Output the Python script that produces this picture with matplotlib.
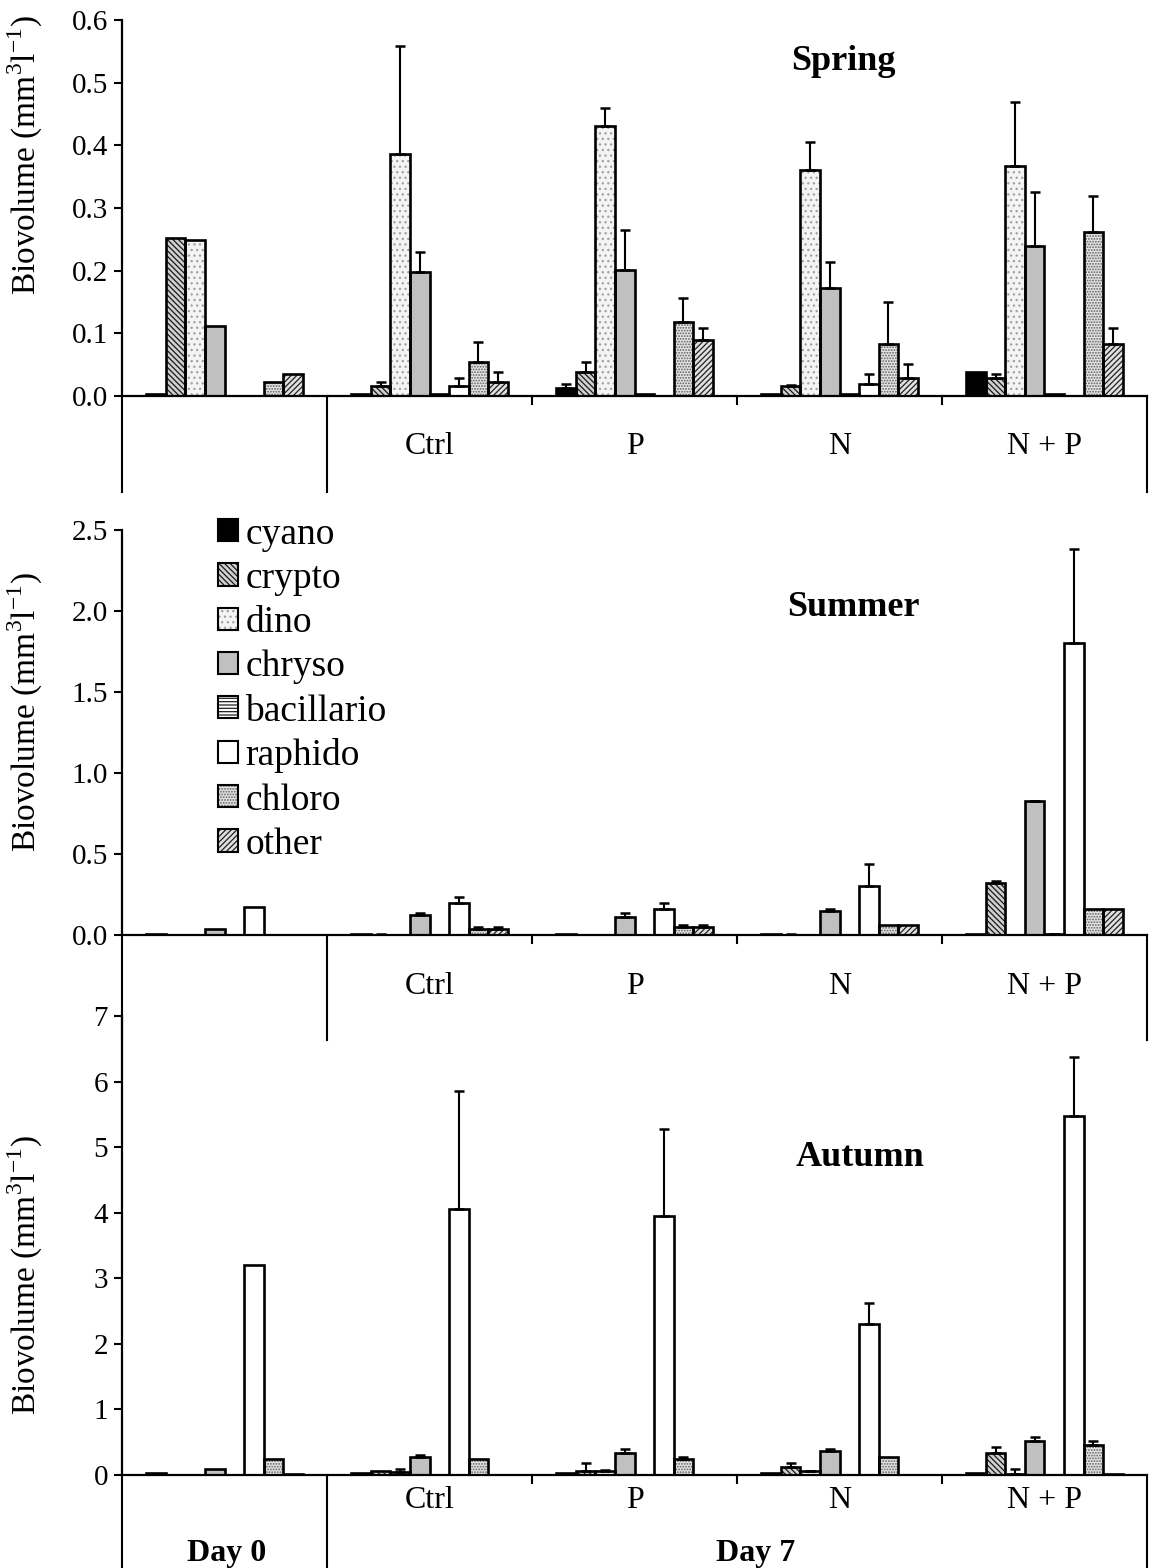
import numpy as np
import matplotlib
matplotlib.use("Agg")
import matplotlib.pyplot as plt
from matplotlib.patches import Patch

plt.rcParams['font.family'] = ['Liberation Serif', 'DejaVu Serif']
plt.rcParams['mathtext.fontset'] = 'custom'
plt.rcParams['mathtext.rm'] = 'Liberation Serif'
plt.rcParams['hatch.linewidth'] = 0.9

W, H = 1153, 1568

groups = ['Day 0', 'Ctrl', 'P', 'N', 'N + P']
taxa = ['cyano', 'crypto', 'dino', 'chryso', 'bacillario', 'raphido', 'chloro', 'other']

# rows follow taxa, columns follow groups
spring_mean = [
    [0.003, 0.003, 0.013, 0.003, 0.038],
    [0.252, 0.016, 0.038, 0.016, 0.028],
    [0.249, 0.386, 0.431, 0.361, 0.367],
    [0.112, 0.198, 0.201, 0.173, 0.239],
    [0.0, 0.003, 0.003, 0.003, 0.003],
    [0.0, 0.016, 0.0, 0.019, 0.0],
    [0.022, 0.054, 0.118, 0.083, 0.262],
    [0.035, 0.022, 0.089, 0.028, 0.083],
]
spring_sd = [
    [0, 0, 0.006, 0, 0],
    [0, 0.006, 0.016, 0.002, 0.007],
    [0, 0.173, 0.028, 0.044, 0.102],
    [0, 0.032, 0.064, 0.041, 0.086],
    [0, 0, 0, 0, 0],
    [0, 0.013, 0, 0.016, 0],
    [0, 0.032, 0.039, 0.067, 0.057],
    [0, 0.016, 0.019, 0.023, 0.025],
]

summer_mean = [
    [0.005, 0.005, 0.005, 0.005, 0.005],
    [0.0, 0.003, 0.0, 0.003, 0.32],
    [0.0, 0.0, 0.0, 0.0, 0.0],
    [0.037, 0.123, 0.111, 0.148, 0.825],
    [0.0, 0.0, 0.0, 0.0, 0.005],
    [0.17, 0.197, 0.158, 0.30, 1.80],
    [0.0, 0.037, 0.047, 0.059, 0.158],
    [0.0, 0.037, 0.047, 0.059, 0.158],
]
summer_sd = [
    [0, 0, 0, 0, 0],
    [0, 0.002, 0, 0.002, 0.013],
    [0, 0, 0, 0, 0],
    [0, 0.015, 0.025, 0.012, 0.005],
    [0, 0, 0, 0, 0.003],
    [0, 0.035, 0.039, 0.14, 0.58],
    [0, 0.012, 0.014, 0, 0],
    [0, 0.012, 0.014, 0, 0],
]

autumn_mean = [
    [0.035, 0.03, 0.035, 0.035, 0.035],
    [0.002, 0.06, 0.06, 0.12, 0.34],
    [0.002, 0.05, 0.06, 0.055, 0.02],
    [0.09, 0.27, 0.34, 0.37, 0.52],
    [0.0, 0.002, 0.002, 0.0, 0.0],
    [3.2, 4.05, 3.95, 2.3, 5.47],
    [0.25, 0.25, 0.25, 0.27, 0.46],
    [0.02, 0.002, 0.002, 0.002, 0.02],
]
autumn_sd = [
    [0, 0, 0, 0, 0],
    [0, 0, 0.13, 0.07, 0.09],
    [0, 0.04, 0.01, 0.01, 0.07],
    [0, 0.04, 0.06, 0.03, 0.06],
    [0, 0, 0, 0, 0],
    [0, 1.8, 1.32, 0.33, 0.9],
    [0, 0, 0.03, 0, 0.06],
    [0, 0, 0, 0, 0],
]

# face colour, hatch, hatch colour
styles = {
    'cyano': ('black', None, 'black'),
    'crypto': ('#d0d0d0', '\\\\\\\\\\\\', '#181818'),
    'dino': ('#f4f4f4', '...', '#a0a0a0'),
    'chryso': ('#c0c0c0', None, '#c0c0c0'),
    'bacillario': ('white', '-----', '#202020'),
    'raphido': ('white', None, 'white'),
    'chloro': ('#e4e4e4', '......', '#606060'),
    'other': ('#e0e0e0', '//////', '#202020'),
}

fig = plt.figure(figsize=(W / 100, H / 100), dpi=100)


def panel(top_px, zero_px, bottom_px, label_px, ylab_px, mean, sd, ymax, step, fmt,
          title, title_xy):
    ax = fig.add_axes([122 / W, 1 - zero_px / H, 1025 / W, (zero_px - top_px) / H])
    ax.patch.set_visible(False)
    bw = 1 / 10.5
    base = np.arange(len(groups))
    for j, taxon in enumerate(taxa):
        face, hatch, hcol = styles[taxon]
        x = base + 1.25 * bw + (j + 0.5) * bw
        v = np.array(mean[j], float)
        e = np.array(sd[j], float)
        keep = v > 0
        ax.bar(x[keep], v[keep], bw, color=face, hatch=hatch, edgecolor=hcol,
               linewidth=0, zorder=2)
        ax.bar(x[keep], v[keep], bw, fill=False, edgecolor='black',
               linewidth=1.9, zorder=3)
        has = e > 0
        if has.any():
            ax.errorbar(x[has], v[has], yerr=[np.zeros(has.sum()), e[has]], fmt='none',
                        ecolor='black', elinewidth=1.5, capsize=3.5, capthick=1.8, zorder=4)

    ax.set_xlim(0, len(groups))
    ax.set_ylim(0, ymax)
    ax.set_xticks([])
    ticks = np.arange(0, ymax + step / 2, step)
    ax.set_yticks(ticks)
    ax.set_yticklabels([fmt.format(t) for t in ticks], fontsize=21)
    ax.tick_params(axis='y', direction='out', length=6, width=1.5, pad=4)
    for s in ['top', 'right']:
        ax.spines[s].set_visible(False)
    for s in ['left', 'bottom']:
        ax.spines[s].set_linewidth(1.6)
    hpx = zero_px - top_px
    ax.set_ylabel(r'Biovolume (mm$^{\mathrm{3}}$l$^{\mathrm{-1}}$)', fontsize=24)
    ax.yaxis.set_label_coords(-77 / 1025, (zero_px - ylab_px) / hpx)

    # category area below the zero line
    yb = -(bottom_px - zero_px) / hpx
    tr = ax.get_xaxis_transform()
    for xs in [0, 1, len(groups)]:
        ax.plot([xs, xs], [0, yb], color='black', lw=1.5, transform=tr, clip_on=False)
    for xs in range(2, len(groups)):
        ax.plot([xs, xs], [0, -8 / hpx], color='black', lw=1.5, transform=tr, clip_on=False)
    yl = -(label_px - zero_px) / hpx
    for i, g in enumerate(groups[1:], start=1):
        ax.text(i + 0.5, yl, g, transform=tr, ha='center', va='center', fontsize=23)

    fig.text(title_xy[0] / W, 1 - title_xy[1] / H, title, ha='center', va='center',
             fontsize=26, fontweight='bold')
    return ax


ax1 = panel(20, 396, 492, 446, 155, spring_mean, spring_sd, 0.6, 0.1, '{:.1f}',
            'Spring', (843, 62))
ax2 = panel(530, 935, 1040, 986, 712, summer_mean, summer_sd, 2.5, 0.5, '{:.1f}',
            'Summer', (853, 607))
ax3 = panel(1016, 1475, 1580, 1501, 1275, autumn_mean, autumn_sd, 7, 1, '{:.0f}',
            'Autumn', (860, 1157))

fig.text(227 / W, 1 - 1553 / H, 'Day 0', ha='center', va='center', fontsize=23, fontweight='bold')
fig.text(756 / W, 1 - 1553 / H, 'Day 7', ha='center', va='center', fontsize=23, fontweight='bold')

handles = []
for taxon in taxa:
    face, hatch, hcol = styles[taxon]
    handles.append((Patch(facecolor=face, hatch=hatch, edgecolor=hcol, linewidth=0),
                    Patch(fill=False, edgecolor='black', linewidth=1.5)))
ax2.legend(handles, taxa, loc='upper left', bbox_to_anchor=(218 / W, 1 - 517 / H),
           bbox_transform=fig.transFigure, frameon=False, fontsize=27,
           handlelength=0.53, handleheight=0.53, handletextpad=0.2,
           labelspacing=0.26, borderpad=0, borderaxespad=0)

fig.savefig('out.png', dpi=100)
